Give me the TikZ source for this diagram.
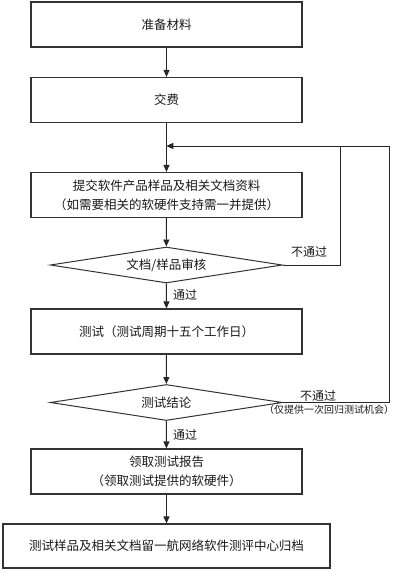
\documentclass[tikz,border=0pt]{standalone}
\usepackage{fontspec}
\newfontfamily\cjk{Noto Sans CJK SC}
\usetikzlibrary{shapes.geometric,arrows.meta}
\begin{document}
\begin{tikzpicture}[x=1pt,y=-1pt,
  every node/.style={font=\cjk\fontsize{12.5}{19}\selectfont, text=black!90},
  procbox/.style={draw=black!80, line width=1.1pt, minimum width=271pt, minimum height=45pt, inner sep=0pt, align=center},
  widebox/.style={procbox, minimum width=327pt},
  decide/.style={draw=black!80, line width=1pt, diamond, minimum width=232pt, minimum height=36pt, inner sep=0pt, aspect=6.4},
  lbl/.style={inner sep=0pt, font=\cjk\fontsize{12}{14}\selectfont},
  small/.style={inner sep=0pt, font=\cjk\fontsize{10}{12}\selectfont},
  conn/.style={draw=black!85, line width=0.9pt, -{Triangle[length=7pt,width=6pt]}},
  line/.style={draw=black!85, line width=0.9pt}]
\useasboundingbox (0,0) rectangle (412,573);
\node[procbox] (b1) at (166.5,24.5) {准备材料};
\node[procbox] (b2) at (166.5,100) {交费};
\node[procbox] (b3) at (166.5,195) {提交软件产品样品及相关文档资料\\（如需要相关的软硬件支持需一并提供）};
\node[decide] (d1) at (166.3,265) {文档/样品审核};
\node[procbox] (b4) at (166.5,331.5) {测试（测试周期十五个工作日）};
\node[decide] (d2) at (166.3,402.5) {测试结论};
\node[procbox] (b5) at (166.5,471.5) {领取测试报告\\（领取测试提供的软硬件）};
\node[widebox, minimum height=44pt] (b6) at (166.5,546) {测试样品及相关文档留一航网络软件测评中心归档};
\coordinate (j) at (166.3,146);
\coordinate (r1) at (340,146);
\coordinate (r2) at (389,146);
\draw[conn] (b1) -- (b2);
\draw[conn] (b2) -- (b3);
\draw[conn] (b3) -- (d1);
\draw[conn] (d1) -- (b4);
\draw[conn] (b4) -- (d2);
\draw[conn] (d2) -- (b5);
\draw[conn] (b5) -- (b6);
\draw[line] (d1.east) -| (r1);
\draw[conn] (d2.east) -| (r2) -- (j);
\node[lbl] (n1) at (309,252) {不通过};
\node[lbl] (p1) at (185,295) {通过};
\node[lbl] (n2) at (318,396) {不通过};
\node[small] (s2) at (329,410) {（仅提供一次回归测试机会）};
\node[lbl] (p2) at (185,435) {通过};
\end{tikzpicture}
\end{document}
